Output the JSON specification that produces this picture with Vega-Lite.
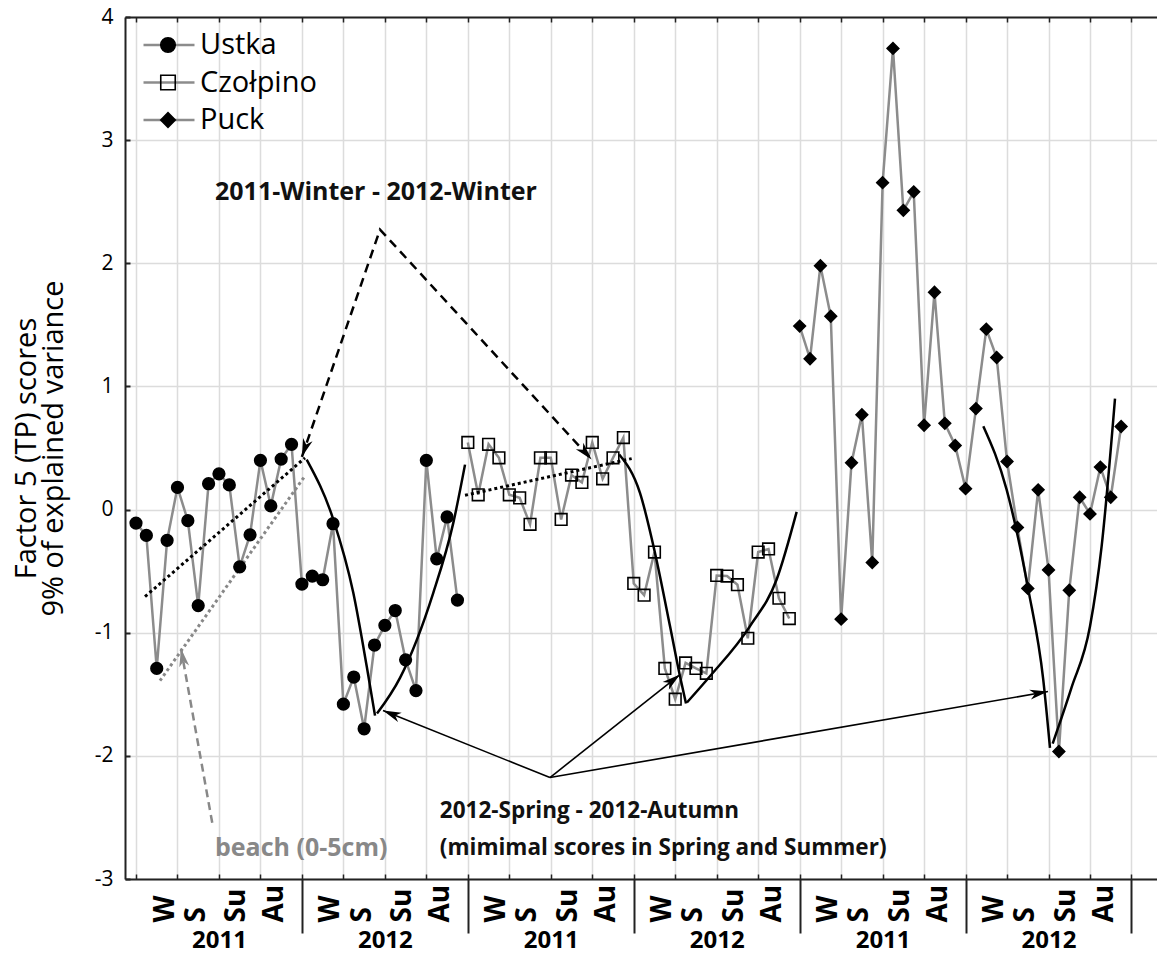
{
  "$schema": "https://vega.github.io/schema/vega-lite/v6.json",
  "width": 1032,
  "height": 862,
  "autosize": {"type": "none"},
  "padding": {"left": 125, "top": 17, "right": 0, "bottom": 74},
  "background": "white",
  "config": {"view": {"stroke": null}, "font": "Open Sans"},
  "datasets": {
    "scores": [
      {"site": "Ustka", "t": 0, "v": -0.11}, {"site": "Ustka", "t": 1, "v": -0.21}, {"site": "Ustka", "t": 2, "v": -1.29}, {"site": "Ustka", "t": 3, "v": -0.25},
      {"site": "Ustka", "t": 4, "v": 0.18}, {"site": "Ustka", "t": 5, "v": -0.09}, {"site": "Ustka", "t": 6, "v": -0.78}, {"site": "Ustka", "t": 7, "v": 0.21},
      {"site": "Ustka", "t": 8, "v": 0.29}, {"site": "Ustka", "t": 9, "v": 0.2}, {"site": "Ustka", "t": 10, "v": -0.465}, {"site": "Ustka", "t": 11, "v": -0.205},
      {"site": "Ustka", "t": 12, "v": 0.4}, {"site": "Ustka", "t": 13, "v": 0.03}, {"site": "Ustka", "t": 14, "v": 0.41}, {"site": "Ustka", "t": 15, "v": 0.53},
      {"site": "Ustka", "t": 16, "v": -0.605}, {"site": "Ustka", "t": 17, "v": -0.54}, {"site": "Ustka", "t": 18, "v": -0.57}, {"site": "Ustka", "t": 19, "v": -0.115},
      {"site": "Ustka", "t": 20, "v": -1.58}, {"site": "Ustka", "t": 21, "v": -1.36}, {"site": "Ustka", "t": 22, "v": -1.78}, {"site": "Ustka", "t": 23, "v": -1.1},
      {"site": "Ustka", "t": 24, "v": -0.94}, {"site": "Ustka", "t": 25, "v": -0.82}, {"site": "Ustka", "t": 26, "v": -1.22}, {"site": "Ustka", "t": 27, "v": -1.47},
      {"site": "Ustka", "t": 28, "v": 0.4}, {"site": "Ustka", "t": 29, "v": -0.4}, {"site": "Ustka", "t": 30, "v": -0.06}, {"site": "Ustka", "t": 31, "v": -0.735},
      {"site": "Czołpino", "t": 32, "v": 0.545}, {"site": "Czołpino", "t": 33, "v": 0.12}, {"site": "Czołpino", "t": 34, "v": 0.53}, {"site": "Czołpino", "t": 35, "v": 0.42},
      {"site": "Czołpino", "t": 36, "v": 0.12}, {"site": "Czołpino", "t": 37, "v": 0.095}, {"site": "Czołpino", "t": 38, "v": -0.12}, {"site": "Czołpino", "t": 39, "v": 0.42},
      {"site": "Czołpino", "t": 40, "v": 0.42}, {"site": "Czołpino", "t": 41, "v": -0.08}, {"site": "Czołpino", "t": 42, "v": 0.28}, {"site": "Czołpino", "t": 43, "v": 0.22},
      {"site": "Czołpino", "t": 44, "v": 0.545}, {"site": "Czołpino", "t": 45, "v": 0.25}, {"site": "Czołpino", "t": 46, "v": 0.42}, {"site": "Czołpino", "t": 47, "v": 0.585},
      {"site": "Czołpino", "t": 48, "v": -0.6}, {"site": "Czołpino", "t": 49, "v": -0.695}, {"site": "Czołpino", "t": 50, "v": -0.345}, {"site": "Czołpino", "t": 51, "v": -1.29},
      {"site": "Czołpino", "t": 52, "v": -1.54}, {"site": "Czołpino", "t": 53, "v": -1.245}, {"site": "Czołpino", "t": 54, "v": -1.29}, {"site": "Czołpino", "t": 55, "v": -1.33},
      {"site": "Czołpino", "t": 56, "v": -0.535}, {"site": "Czołpino", "t": 57, "v": -0.54}, {"site": "Czołpino", "t": 58, "v": -0.61}, {"site": "Czołpino", "t": 59, "v": -1.045},
      {"site": "Czołpino", "t": 60, "v": -0.345}, {"site": "Czołpino", "t": 61, "v": -0.32}, {"site": "Czołpino", "t": 62, "v": -0.72}, {"site": "Czołpino", "t": 63, "v": -0.885},
      {"site": "Puck", "t": 64, "v": 1.49}, {"site": "Puck", "t": 65, "v": 1.225}, {"site": "Puck", "t": 66, "v": 1.98}, {"site": "Puck", "t": 67, "v": 1.57},
      {"site": "Puck", "t": 68, "v": -0.89}, {"site": "Puck", "t": 69, "v": 0.38}, {"site": "Puck", "t": 70, "v": 0.77}, {"site": "Puck", "t": 71, "v": -0.43},
      {"site": "Puck", "t": 72, "v": 2.655}, {"site": "Puck", "t": 73, "v": 3.745}, {"site": "Puck", "t": 74, "v": 2.43}, {"site": "Puck", "t": 75, "v": 2.58},
      {"site": "Puck", "t": 76, "v": 0.685}, {"site": "Puck", "t": 77, "v": 1.765}, {"site": "Puck", "t": 78, "v": 0.7}, {"site": "Puck", "t": 79, "v": 0.52},
      {"site": "Puck", "t": 80, "v": 0.17}, {"site": "Puck", "t": 81, "v": 0.82}, {"site": "Puck", "t": 82, "v": 1.465}, {"site": "Puck", "t": 83, "v": 1.235},
      {"site": "Puck", "t": 84, "v": 0.39}, {"site": "Puck", "t": 85, "v": -0.145}, {"site": "Puck", "t": 86, "v": -0.64}, {"site": "Puck", "t": 87, "v": 0.16},
      {"site": "Puck", "t": 88, "v": -0.49}, {"site": "Puck", "t": 89, "v": -1.965}, {"site": "Puck", "t": 90, "v": -0.655}, {"site": "Puck", "t": 91, "v": 0.1},
      {"site": "Puck", "t": 92, "v": -0.035}, {"site": "Puck", "t": 93, "v": 0.345}, {"site": "Puck", "t": 94, "v": 0.1}, {"site": "Puck", "t": 95, "v": 0.675}
    ],
    "curves": [
      {"c": "uD", "t": 16.46, "v": 0.406}, {"c": "uD", "t": 19.03, "v": -0.081}, {"c": "uD", "t": 20.95, "v": -0.674}, {"c": "uD", "t": 22.25, "v": -1.273}, {"c": "uD", "t": 23.05, "v": -1.673},
      {"c": "uA", "t": 23.24, "v": -1.657}, {"c": "uA", "t": 25.46, "v": -1.367}, {"c": "uA", "t": 28.67, "v": -0.676}, {"c": "uA", "t": 30.6, "v": -0.108}, {"c": "uA", "t": 31.73, "v": 0.365},
      {"c": "cD", "t": 46.6, "v": 0.447}, {"c": "cD", "t": 48.6, "v": 0.136}, {"c": "cD", "t": 50.05, "v": -0.352}, {"c": "cD", "t": 51.5, "v": -0.948}, {"c": "cD", "t": 52.46, "v": -1.354}, {"c": "cD", "t": 53.04, "v": -1.575},
      {"c": "cA", "t": 53.13, "v": -1.567}, {"c": "cA", "t": 55.35, "v": -1.354}, {"c": "cA", "t": 59.2, "v": -0.948}, {"c": "cA", "t": 61.78, "v": -0.568}, {"c": "cA", "t": 63.71, "v": -0.019},
      {"c": "pD", "t": 81.71, "v": 0.677}, {"c": "pD", "t": 83.96, "v": 0.162}, {"c": "pD", "t": 86.05, "v": -0.65}, {"c": "pD", "t": 87.49, "v": -1.381}, {"c": "pD", "t": 88.14, "v": -1.935},
      {"c": "pA", "t": 88.4, "v": -1.9}, {"c": "pA", "t": 90.2, "v": -1.45}, {"c": "pA", "t": 92.0, "v": -0.948}, {"c": "pA", "t": 93.12, "v": -0.298}, {"c": "pA", "t": 94.41, "v": 0.901}
    ],
    "blackTrends": [
      {"g": "u", "t": 0.87, "v": -0.707}, {"g": "u", "t": 16.3, "v": 0.42},
      {"g": "c", "t": 31.73, "v": 0.116}, {"g": "c", "t": 47.8, "v": 0.414}
    ],
    "beachTrend": [
      {"t": 2.31, "v": -1.39}, {"t": 16.2, "v": 0.262}
    ],
    "winterPath": [
      {"t": 16.0, "v": 0.428}, {"t": 23.53, "v": 2.274}, {"t": 43.94, "v": 0.406}
    ],
    "beachArrow": [
      {"t": 7.43, "v": -2.58}, {"t": 4.34, "v": -1.129}
    ],
    "springArrows": [
      {"a": "sU", "t": 39.92, "v": -2.176}, {"a": "sU", "t": 23.82, "v": -1.632},
      {"a": "sC", "t": 39.92, "v": -2.176}, {"a": "sC", "t": 52.46, "v": -1.34},
      {"a": "sP", "t": 39.92, "v": -2.176}, {"a": "sP", "t": 87.95, "v": -1.478}
    ],
    "blackHeads": [
      {"a": "wL", "t": 16.0, "v": 0.428},
      {"a": "wR", "t": 43.94, "v": 0.406},
      {"a": "sU", "t": 23.82, "v": -1.632},
      {"a": "sC", "t": 52.46, "v": -1.34},
      {"a": "sP", "t": 87.95, "v": -1.478}
    ],
    "grayHeads": [
      {"a": "beach", "t": 4.34, "v": -1.129}
    ],
    "notesTop": [
      {"label": "2011-Winter - 2012-Winter", "t": 7.62, "v": 2.58}
    ],
    "notesBottom": [
      {"label": "2012-Spring - 2012-Autumn", "t": 29.3, "v": -2.45},
      {"label": "(mimimal scores in Spring and Summer)", "t": 29.3, "v": -2.745}
    ],
    "beachNote": [
      {"label": "beach (0-5cm)", "t": 7.62, "v": -2.745}
    ]
  },
  "resolve": {"axis": {"x": "independent", "y": "independent"}},
  "layer": [
    {
      "data": {"name": "scores"},
      "mark": {"type": "line", "strokeWidth": 2.5},
      "encoding": {
        "x": {"field": "t", "type": "quantitative", "scale": {"domain": [-1.06, 98.46], "nice": false, "zero": false},
          "axis": {"orient": "bottom", "values": [0,4,8,12,16,20,24,28,32,36,40,44,48,52,56,60,64,68,72,76,80,84,88,92,96], "grid": true, "gridColor": "#dcdcdc", "gridWidth": 1.5, "labels": false, "ticks": true, "tickSize": -5, "tickColor": "#222", "tickWidth": 1.5, "domain": true, "domainColor": "#222", "domainWidth": 2, "title": null}},
        "y": {"field": "v", "type": "quantitative", "scale": {"domain": [-3, 4], "nice": false, "zero": false},
          "axis": {"orient": "left", "values": [-3,-2,-1,0,1,2,3,4], "grid": true, "gridColor": "#dcdcdc", "gridWidth": 1.5, "tickSize": -5, "tickColor": "#222", "tickWidth": 2, "domainColor": "#222", "domainWidth": 2, "labelFontSize": 21, "labelFont": "Open Sans", "labelColor": "#000", "labelPadding": 17, "labelExpr": "'' + datum.value", "title": ["Factor 5 (TP) scores", "9% of explained variance"], "titleFontSize": 29, "titleFontWeight": "normal", "titleFont": "Open Sans", "titleColor": "#000", "titlePadding": 26, "titleLineHeight": 27}},
        "color": {"field": "site", "type": "nominal", "scale": {"range": ["#8c8c8c", "#8c8c8c", "#8c8c8c"]},
          "legend": {"orient": "none", "legendX": 17, "legendY": 13, "title": null, "symbolType": "stroke", "symbolSize": 2600, "symbolStrokeWidth": 2.5, "labelExpr": "''", "labelFontSize": 29, "clipHeight": 30, "rowPadding": 7.5, "padding": 0}}
      }
    },
    {
      "data": {"name": "curves"},
      "mark": {"type": "line", "color": "#000", "strokeWidth": 2.5, "interpolate": "monotone"},
      "encoding": {
        "x": {"field": "t", "type": "quantitative", "scale": {"domain": [-1.06, 98.46], "nice": false, "zero": false},
          "axis": {"orient": "top", "values": [0,4,8,12,16,20,24,28,32,36,40,44,48,52,56,60,64,68,72,76,80,84,88,92,96], "grid": false, "labels": false, "ticks": true, "tickSize": -5, "tickColor": "#222", "tickWidth": 1.5, "domain": true, "domainColor": "#222", "domainWidth": 2, "title": null}},
        "y": {"field": "v", "type": "quantitative", "scale": {"domain": [-3, 4], "nice": false, "zero": false}, "axis": null},
        "detail": {"field": "c", "type": "nominal"}
      }
    },
    {
      "data": {"name": "blackTrends"},
      "mark": {"type": "line", "color": "#000", "strokeWidth": 3, "strokeDash": [3, 3]},
      "encoding": {
        "x": {"field": "t", "type": "quantitative", "scale": {"domain": [-1.06, 98.46], "nice": false, "zero": false},
          "axis": {"orient": "bottom", "values": [8, 24, 40, 56, 72, 88], "labelExpr": "floor(datum.value / 16) % 2 == 0 ? '2011' : '2012'", "ticks": false, "domain": false, "grid": false, "labelPadding": 49, "labelFontSize": 24, "labelFontWeight": "bold", "labelFont": "Open Sans", "labelColor": "#000", "labelAngle": 0, "labelOverlap": false, "labelFlush": false, "title": null}},
        "y": {"field": "v", "type": "quantitative", "scale": {"domain": [-3, 4], "nice": false, "zero": false}, "axis": null},
        "detail": {"field": "g", "type": "nominal"}
      }
    },
    {
      "data": {"name": "beachTrend"},
      "mark": {"type": "line", "color": "#888888", "strokeWidth": 3, "strokeDash": [3, 3]},
      "encoding": {
        "x": {"field": "t", "type": "quantitative", "scale": {"domain": [-1.06, 98.46], "nice": false, "zero": false},
          "axis": {"orient": "bottom", "values": [16, 32, 48, 64, 80, 96], "ticks": true, "tickSize": 54, "tickWidth": 2, "tickColor": "#222", "labels": false, "domain": false, "grid": false, "title": null}},
        "y": {"field": "v", "type": "quantitative", "scale": {"domain": [-3, 4], "nice": false, "zero": false}, "axis": null}
      }
    },
    {
      "data": {"name": "winterPath"},
      "mark": {"type": "line", "color": "#000", "strokeWidth": 2.5, "strokeDash": [9, 6]},
      "encoding": {
        "x": {"field": "t", "type": "quantitative", "scale": {"domain": [-1.06, 98.46], "nice": false, "zero": false}, "axis": null},
        "y": {"field": "v", "type": "quantitative", "scale": {"domain": [-3, 4], "nice": false, "zero": false}, "axis": null}
      }
    },
    {
      "data": {"name": "beachArrow"},
      "mark": {"type": "line", "color": "#888888", "strokeWidth": 2.5, "strokeDash": [8, 5]},
      "encoding": {
        "x": {"field": "t", "type": "quantitative", "scale": {"domain": [-1.06, 98.46], "nice": false, "zero": false}, "axis": null},
        "y": {"field": "v", "type": "quantitative", "scale": {"domain": [-3, 4], "nice": false, "zero": false}, "axis": null}
      }
    },
    {
      "data": {"name": "springArrows"},
      "mark": {"type": "line", "color": "#000", "strokeWidth": 1.6},
      "encoding": {
        "x": {"field": "t", "type": "quantitative", "scale": {"domain": [-1.06, 98.46], "nice": false, "zero": false}, "axis": null},
        "y": {"field": "v", "type": "quantitative", "scale": {"domain": [-3, 4], "nice": false, "zero": false}, "axis": null},
        "detail": {"field": "a", "type": "nominal"}
      }
    },
    {
      "data": {"name": "blackHeads"},
      "mark": {"type": "point", "shape": "M0,0L0.55,2L0,1.45L-0.55,2Z", "size": 330, "filled": true, "color": "#000", "opacity": 1},
      "encoding": {
        "x": {"field": "t", "type": "quantitative", "scale": {"domain": [-1.06, 98.46], "nice": false, "zero": false}, "axis": null},
        "y": {"field": "v", "type": "quantitative", "scale": {"domain": [-3, 4], "nice": false, "zero": false}, "axis": null},
        "angle": {"field": "a", "type": "nominal", "scale": {"type": "ordinal", "domain": ["beach", "wL", "wR", "sU", "sC", "sP"], "range": [349.8, 198.9, 138.3, 291.8, 51.7, 80.2]}, "legend": null}
      }
    },
    {
      "data": {"name": "grayHeads"},
      "mark": {"type": "point", "shape": "M0,0L0.55,2L0,1.45L-0.55,2Z", "size": 330, "filled": true, "color": "#888888", "opacity": 1},
      "encoding": {
        "x": {"field": "t", "type": "quantitative", "scale": {"domain": [-1.06, 98.46], "nice": false, "zero": false}, "axis": null},
        "y": {"field": "v", "type": "quantitative", "scale": {"domain": [-3, 4], "nice": false, "zero": false}, "axis": null},
        "angle": {"field": "a", "type": "nominal", "scale": {"type": "ordinal", "domain": ["beach", "wL", "wR", "sU", "sC", "sP"], "range": [349.8, 198.9, 138.3, 291.8, 51.7, 80.2]}, "legend": null}
      }
    },
    {
      "data": {"name": "scores"},
      "mark": {"type": "point", "strokeWidth": 1.6, "size": 135, "opacity": 1},
      "encoding": {
        "x": {"field": "t", "type": "quantitative", "scale": {"domain": [-1.06, 98.46], "nice": false, "zero": false},
          "axis": {"orient": "bottom", "values": [2.8,5.8,9.7,13.4,18.8,21.8,25.7,29.4,34.8,37.8,41.7,45.4,50.8,53.8,57.7,61.4,66.8,69.8,73.7,77.4,82.8,85.8,89.7,93.4], "labelExpr": "['W','S','Su','Au'][floor((datum.value % 16) / 4)]", "labelAngle": 270, "labelAlign": "left", "labelBaseline": "middle", "labelPadding": 43, "labelFontSize": 28, "labelFontWeight": "bold", "labelFont": "Open Sans", "labelColor": "#000", "ticks": false, "domain": false, "grid": false, "labelOverlap": false, "labelFlush": false, "title": null}},
        "y": {"field": "v", "type": "quantitative", "scale": {"domain": [-3, 4], "nice": false, "zero": false}, "axis": null},
        "shape": {"field": "site", "type": "nominal", "scale": {"domain": ["Ustka", "Czołpino", "Puck"], "range": ["circle", "square", "diamond"]},
          "legend": {"orient": "none", "legendX": 28.5, "legendY": 13, "title": null, "symbolSize": 210, "symbolStrokeWidth": 1.6, "labelFontSize": 29, "labelFont": "Open Sans", "labelColor": "#000", "labelOffset": 17.5, "clipHeight": 30, "rowPadding": 7.5, "padding": 0}},
        "fill": {"field": "site", "type": "nominal", "scale": {"domain": ["Ustka", "Czołpino", "Puck"], "range": ["#000000", "transparent", "#000000"]},
          "legend": {"orient": "none", "legendX": 28.5, "legendY": 13, "title": null, "symbolSize": 210, "symbolStrokeWidth": 1.6, "labelFontSize": 29, "labelFont": "Open Sans", "labelColor": "#000", "labelOffset": 17.5, "clipHeight": 30, "rowPadding": 7.5, "padding": 0}},
        "stroke": {"field": "site", "type": "nominal", "scale": {"domain": ["Ustka", "Czołpino", "Puck"], "range": ["#000000", "#000000", "#000000"]},
          "legend": {"orient": "none", "legendX": 28.5, "legendY": 13, "title": null, "symbolSize": 210, "symbolStrokeWidth": 1.6, "labelFontSize": 29, "labelFont": "Open Sans", "labelColor": "#000", "labelOffset": 17.5, "clipHeight": 30, "rowPadding": 7.5, "padding": 0}}
      }
    },
    {
      "data": {"name": "notesTop"},
      "mark": {"type": "text", "align": "left", "baseline": "middle", "font": "Open Sans", "fontWeight": "bold", "fontSize": 25, "color": "#111"},
      "encoding": {
        "x": {"field": "t", "type": "quantitative", "scale": {"domain": [-1.06, 98.46], "nice": false, "zero": false}, "axis": null},
        "y": {"field": "v", "type": "quantitative", "scale": {"domain": [-3, 4], "nice": false, "zero": false}, "axis": null},
        "text": {"field": "label"}
      }
    },
    {
      "data": {"name": "notesBottom"},
      "mark": {"type": "text", "align": "left", "baseline": "middle", "font": "Open Sans", "fontWeight": "bold", "fontSize": 22.5, "color": "#111"},
      "encoding": {
        "x": {"field": "t", "type": "quantitative", "scale": {"domain": [-1.06, 98.46], "nice": false, "zero": false}, "axis": null},
        "y": {"field": "v", "type": "quantitative", "scale": {"domain": [-3, 4], "nice": false, "zero": false}, "axis": null},
        "text": {"field": "label"}
      }
    },
    {
      "data": {"name": "beachNote"},
      "mark": {"type": "text", "align": "left", "baseline": "middle", "font": "Open Sans", "fontWeight": "bold", "fontSize": 25, "color": "#888888"},
      "encoding": {
        "x": {"field": "t", "type": "quantitative", "scale": {"domain": [-1.06, 98.46], "nice": false, "zero": false}, "axis": null},
        "y": {"field": "v", "type": "quantitative", "scale": {"domain": [-3, 4], "nice": false, "zero": false}, "axis": null},
        "text": {"field": "label"}
      }
    }
  ]
}
